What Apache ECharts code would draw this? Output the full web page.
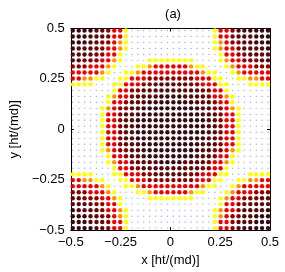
<!DOCTYPE html>
<html><head><meta charset="utf-8">
<script src="https://cdn.jsdelivr.net/npm/echarts@6/dist/echarts.min.js"></script>
<style>html,body{margin:0;padding:0;background:#fff}#c{width:285px;height:272px}</style>
</head><body><div id="c"></div>
<script>
// grid point coordinates (x left to right, y top to bottom)
const xs = [-0.490,-0.460,-0.431,-0.401,-0.371,-0.342,-0.312,-0.282,-0.252,-0.223,-0.193,-0.163,-0.134,-0.104,-0.074,-0.045,-0.015,
             0.015, 0.045, 0.074, 0.104, 0.134, 0.163, 0.193, 0.223, 0.252, 0.282, 0.312, 0.342, 0.371, 0.401, 0.431, 0.460, 0.490];
const ys = [ 0.490, 0.460, 0.431, 0.401, 0.371, 0.342, 0.312, 0.282, 0.252, 0.223, 0.193, 0.163, 0.134, 0.104, 0.074, 0.045, 0.015,
            -0.015,-0.045,-0.074,-0.104,-0.134,-0.163,-0.193,-0.223,-0.252,-0.282,-0.312,-0.342,-0.371,-0.401,-0.431,-0.460,-0.490];
// level per grid point: . empty, y yellow, o orange, r red, d dark red, m maroon, k darkest
const rows = [
  "kkkkmmdrry..............yrrdmmkkkk",
  "kkkmmmdrry..............yrrdmmmkkk",
  "kkkmmddroy..............yorddmmkkk",
  "kmmmmdrroy..............yorrdmmmmk",
  "mmmmddrry................yrrddmmmm",
  "mmdddrroy....yyyyyyyy....yorrdddmm",
  "dddrrroy...yyorrrrrroyy...yorrrddd",
  "rrrrroy..yyorrrrrrrrrroyy..yorrrrr",
  "rrooyy..yyrrrddddddddrrryy..yyoorr",
  "yyyy...yyrrrddmmmmmmddrrryy...yyyy",
  ".......yrrddmmmmmmmmmmddrry.......",
  "......yorrdmmmmkkkkmmmmdrroy......",
  "......yrrdmmmkkkkkkkkmmmdrry......",
  ".....yorddmmkkkkkkkkkkmmddroy.....",
  ".....yrrdmmmkkkkkkkkkkmmmdrry.....",
  ".....yrrdmmkkkkkkkkkkkkmmdrry.....",
  ".....yrrdmmkkkkkkkkkkkkmmdrry.....",
  ".....yrrdmmkkkkkkkkkkkkmmdrry.....",
  ".....yrrdmmkkkkkkkkkkkkmmdrry.....",
  ".....yrrdmmmkkkkkkkkkkmmmdrry.....",
  ".....yorddmmkkkkkkkkkkmmddroy.....",
  "......yrrdmmmkkkkkkkkmmmdrry......",
  "......yorrdmmmmkkkkmmmmdrroy......",
  ".......yrrddmmmmmmmmmmddrry.......",
  "yyyy...yyrrrddmmmmmmddrrryy...yyyy",
  "rrooyy..yyrrrddddddddrrryy..yyoorr",
  "rrrrroy..yyorrrrrrrrrroyy..yorrrrr",
  "dddrrroy...yyorrrrrroyy...yorrrddd",
  "mmdddrroy....yyyyyyyy....yorrdddmm",
  "mmmmddrry................yrrddmmmm",
  "kmmmmdrroy..............yorrdmmmmk",
  "kkkmmddroy..............yorddmmkkk",
  "kkkmmmdrry..............yrrdmmmkkk",
  "kkkkmmdrry..............yrrdmmkkkk"
];
const levels = ['.', 'y', 'o', 'r', 'd', 'm', 'k'];
const tickValues = [-0.5, -0.25, 0, 0.25, 0.5];

const colorOf = {'.':'#9aa8ff', y:'#ffff00', o:'#ff9000', r:'#f00000', d:'#8c0000', m:'#5a0a0a', k:'#360a12'};
const sizeOf = {'.':1.4, y:4.4, o:4.4, r:4.4, d:4.4, m:4.4, k:4.4};

const byLevel = {};
levels.forEach(l => byLevel[l] = []);
rows.forEach((row, j) => {
  for (let i = 0; i < row.length; i++) byLevel[row[i]].push([xs[i], ys[j]]);
});

const font = 'Liberation Sans, Arial, sans-serif';
const fmt = v => String(v).replace('-', '\u2212');
const baseAxis = {
  type: 'value', min: -0.5, max: 0.5, interval: 0.25,
  axisLine: {show: true, onZero: false, lineStyle: {color: '#000', width: 1}},
  axisTick: {show: true, inside: true, length: 3, lineStyle: {color: '#000'}},
  splitLine: {show: false},
  axisLabel: {color: '#000', fontSize: 13, fontFamily: font, formatter: fmt}
};

const chart = echarts.init(document.getElementById('c'), null, {renderer: 'canvas'});
chart.setOption({
  animation: false,
  backgroundColor: '#fff',
  title: {text: '(a)', left: 168, top: 3, textAlign: 'center',
          textStyle: {fontSize: 13, fontWeight: 'normal', color: '#000', fontFamily: font}},
  grid: {left: 65, right: 15, top: 28.5, bottom: 37},
  xAxis: [
    Object.assign({}, baseAxis, {position: 'bottom', name: 'x [ht/(md)]', nameLocation: 'middle', nameGap: 23,
      nameTextStyle: {fontSize: 13, color: '#000', fontFamily: font},
      axisLabel: Object.assign({}, baseAxis.axisLabel, {margin: 6})}),
    Object.assign({}, baseAxis, {position: 'top', axisLabel: {show: false}})
  ],
  yAxis: [
    Object.assign({}, baseAxis, {position: 'left', name: 'y [ht/(md)]', nameLocation: 'middle', nameGap: 42,
      nameTextStyle: {fontSize: 13, color: '#000', fontFamily: font},
      axisLabel: Object.assign({}, baseAxis.axisLabel, {margin: 6})}),
    Object.assign({}, baseAxis, {position: 'right', axisLabel: {show: false}})
  ],
  series: levels.map(l => ({
    type: 'scatter', name: l, xAxisIndex: 0, yAxisIndex: 0,
    data: byLevel[l], symbol: 'circle', symbolSize: sizeOf[l],
    itemStyle: {color: colorOf[l], opacity: 1},
    silent: true
  }))
});
</script></body></html>
